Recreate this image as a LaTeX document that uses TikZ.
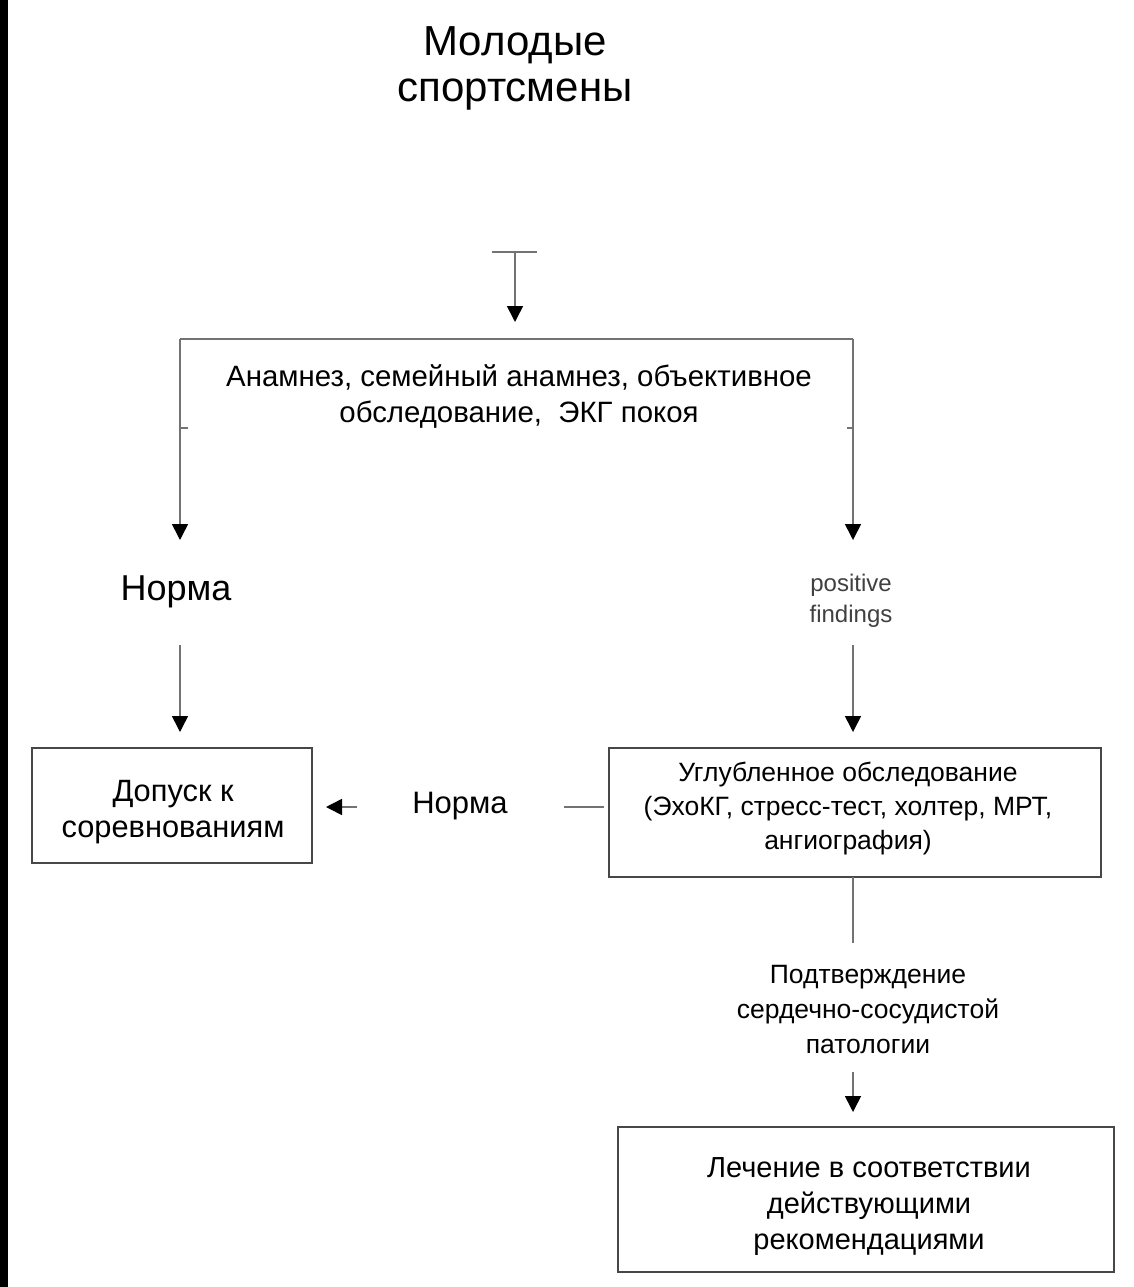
\documentclass[tikz,border=0pt]{standalone}
\usepackage{fontspec}
\setmainfont{Liberation Sans}
\usetikzlibrary{arrows.meta}
\begin{document}
\begin{tikzpicture}[x=1pt,y=1pt,
  conn/.style={draw=black!55, line width=1.6pt},
  arr/.style={conn, -{Triangle[length=16pt,width=16pt,color=black]}},
  boxnode/.style={draw=black!72, line width=2.2pt, inner sep=0pt, align=center},
  txt/.style={align=center, inner sep=0pt}
]
\useasboundingbox (0,0) rectangle (1133,-1287);
\fill[white] (0,0) rectangle (1133,-1287);
\fill[black] (0,0) rectangle (8,-1287);

% title
\node[txt, font=\fontsize{42}{46}\selectfont] (title) at (515,-68) {Молодые\\спортсмены};

% top entry
\coordinate (tl) at (492,-252);
\coordinate (tr) at (537,-252);
\coordinate (ts) at (515,-252);
\coordinate (ta) at (515,-322);
\draw[conn] (tl) -- (tr);
\draw[arr] (ts) -- (ta);

% screening bracket
\coordinate (bl) at (180,-339);
\coordinate (br) at (853,-339);
\coordinate (bla) at (180,-540);
\coordinate (bra) at (853,-540);
\draw[conn] (bl) -- (br);
\draw[arr] (bl) -- (bla);
\draw[arr] (br) -- (bra);
\draw[conn] (180,-428) -- (188,-428);
\draw[conn] (853,-428) -- (847,-428);
\node[txt, font=\fontsize{29.4}{36}\selectfont] (screen) at (519,-397)
  {Анамнез, семейный анамнез, объективное\\обследование,\ \ ЭКГ покоя};

% outcomes
\node[txt, font=\fontsize{36}{40}\selectfont] (norma1) at (176,-592) {Норма};
\node[txt, font=\fontsize{24}{31}\selectfont, text=black!75] (pos) at (851,-601) {positive\\findings};

\coordinate (l1) at (180,-645);
\coordinate (l2) at (180,-732);
\coordinate (r1) at (853,-645);
\coordinate (r2) at (853,-732);
\draw[arr] (l1) -- (l2);
\draw[arr] (r1) -- (r2);

% boxes
\node[boxnode, minimum width=280pt, minimum height=115pt] (admit) at (172,-805.5) {};
\node[txt, font=\fontsize{30.8}{36}\selectfont] (admittxt) at (173,-812)
  {Допуск к\\соревнованиям};
\node[boxnode, minimum width=492pt, minimum height=129pt] (deep) at (855,-812.5) {};
\node[txt, font=\fontsize{26.5}{34}\selectfont] (deeptxt) at (848,-809)
  {Углубленное обследование\\(ЭхоКГ, стресс-тест, холтер, МРТ,\\ангиография)};

% middle norma
\node[txt, font=\fontsize{31}{36}\selectfont] (norma2) at (460,-806) {Норма};
\coordinate (da) at (604,-807);
\coordinate (db) at (564,-807);
\draw[conn] (da) -- (db);
\coordinate (ma) at (357,-807);
\coordinate (mb) at (326,-807);
\draw[arr] (ma) -- (mb);

% confirmation
\coordinate (c1) at (853,-877);
\coordinate (c2) at (853,-943);
\draw[conn] (c1) -- (c2);
\node[txt, font=\fontsize{26.5}{35}\selectfont] (confirm) at (868,-1010)
  {Подтверждение\hspace{20pt}\\сердечно-сосудистой\\патологии};
\coordinate (c3) at (853,-1072);
\coordinate (c4) at (853,-1112);
\draw[arr] (c3) -- (c4);

\node[boxnode, minimum width=496pt, minimum height=145pt] (treat) at (866,-1199.5) {};
\node[txt, font=\fontsize{29}{36}\selectfont] (treattxt) at (869,-1207)
  {Лечение в соответствии\\действующими\\рекомендациями};
\end{tikzpicture}
\end{document}
